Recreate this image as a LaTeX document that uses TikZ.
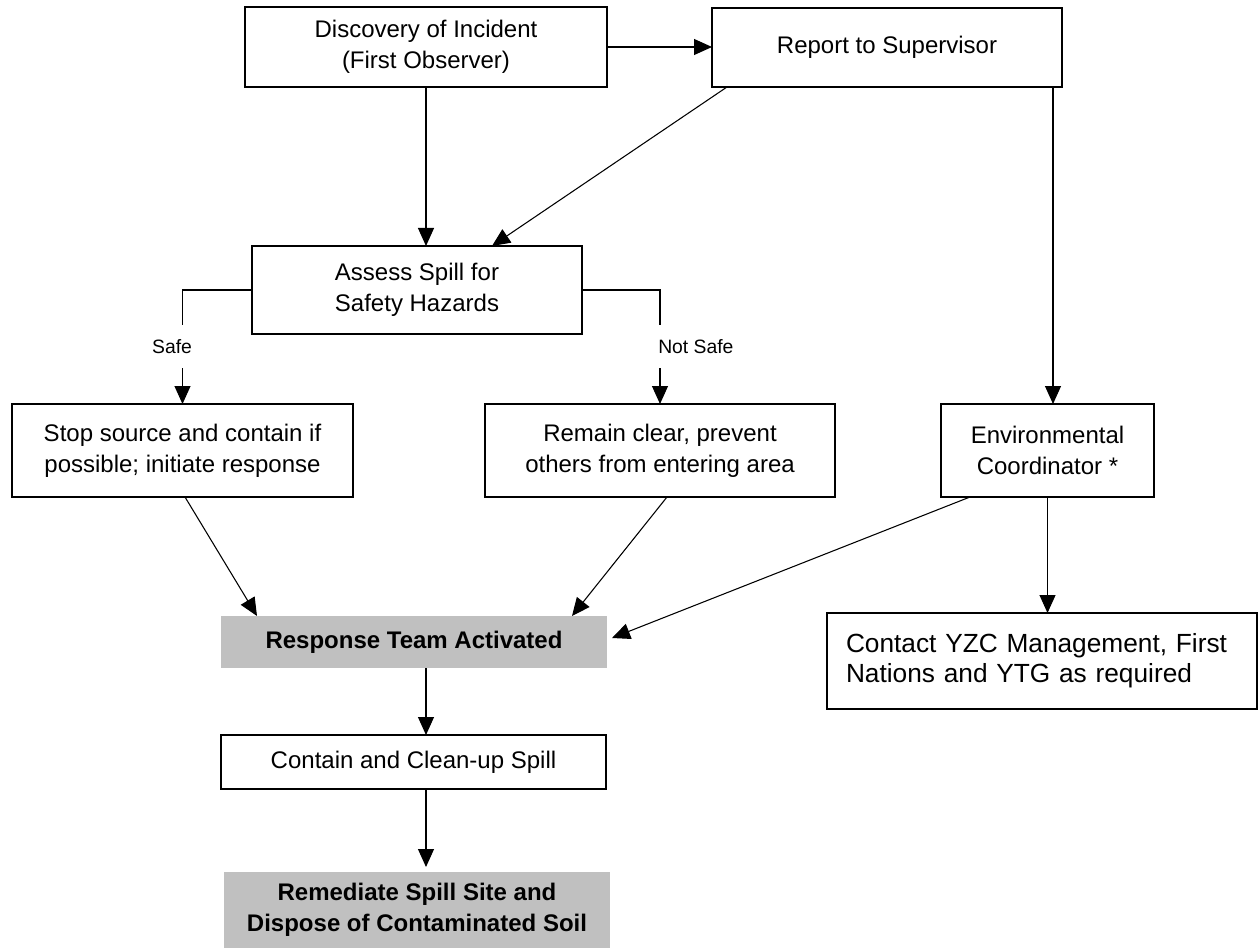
\documentclass[tikz,border=0pt]{standalone}
\usepackage{fontspec}
\setmainfont{Liberation Sans}
\usetikzlibrary{arrows.meta,calc}
\definecolor{boxgrey}{HTML}{C0C0C0}
\begin{document}
\begin{tikzpicture}[x=0.75pt,y=-0.75pt,
  box/.style={draw,line width=1pt,align=center,inner sep=0pt,outer sep=0pt,
    anchor=north west,font=\fontsize{18}{23}\selectfont},
  greybox/.style={fill=boxgrey,draw=none,align=center,inner sep=0pt,outer sep=0pt,
    anchor=north west,font=\fontsize{18}{23}\selectfont\bfseries},
  conn/.style={line width=0.8pt,-{Triangle[length=13.5pt,width=12pt]}},
  plain/.style={line width=0.8pt},
  lbl/.style={font=\fontsize{14.5}{17}\selectfont,inner sep=0pt}]
\useasboundingbox (0,0) rectangle (1259,948);

\node[box,minimum width=271.5pt,minimum height=60pt] (disc) at (245,7)
  {Discovery of Incident\\(First Observer)};
\node[box,minimum width=262.5pt,minimum height=59.25pt] (rep) at (712,8)
  {Report to Supervisor};
\node[box,minimum width=247.5pt,minimum height=66pt] (assess) at (252,246)
  {Assess Spill for\\Safety Hazards};
\node[box,minimum width=255.75pt,minimum height=69.75pt] (stop) at (12,404)
  {Stop source and contain if\\possible; initiate response};
\node[box,minimum width=262.5pt,minimum height=69.75pt] (remain) at (485,404)
  {Remain clear, prevent\\others from entering area};
\node[box,minimum width=159.75pt,minimum height=69.75pt] (env) at (941,404)
  {Environmental\\Coordinator *};
\node[greybox,minimum width=289.5pt,minimum height=39pt] (resp) at (221,616)
  {Response Team Activated};
\node[box,line width=1.5pt,minimum width=322.5pt,minimum height=72pt,align=left,
  text width=294pt,inner xsep=14.25pt,font=\fontsize{19.7}{22.5}\selectfont] (contact) at (827,613)
  {Contact YZC Management, First\\Nations and YTG as required\\[8pt]};
\node[box,minimum width=288.75pt,minimum height=40.5pt] (contain) at (221,735)
  {Contain and Clean-up Spill};
\node[greybox,minimum width=289.5pt,minimum height=57pt] (remed) at (224,872)
  {Remediate Spill Site and\\Dispose of Contaminated Soil};

% top row
\draw[conn] (disc.east) -- (disc.east -| rep.west);
\draw[conn] (disc.south) -- (disc.south |- assess.north);
\draw[conn] ($(rep.south west)+(15,0)$) -- ($(assess.north east)+(-90,0)$);
\coordinate (repR) at ($(rep.south east)+(-9,0)$);
\draw[conn] (repR) -- (repR |- env.north);

% safe branch
\coordinate (safeTop) at ($(stop.north)+(0,-79)$);
\draw[plain] (assess.west) -| (safeTop);
\node[lbl] (safe) at (172,347) {Safe};
\draw[conn] ($(stop.north)+(0,-36)$) -- (stop.north);

% not safe branch
\coordinate (nsTop) at ($(remain.north)+(0,-79)$);
\draw[plain] (assess.east) -| (nsTop);
\node[lbl,anchor=west] (notsafe) at (658,347) {Not Safe};
\draw[conn] ($(remain.north)+(0,-36)$) -- (remain.north);

% to response team
\draw[conn] ($(stop.south)+(2.5,0)$) -- ($(resp.north west)+(36,0)$);
\draw[conn] ($(remain.south)+(7,0)$) -- ($(resp.north east)+(-35,0)$);
\draw[conn] ($(env.south west)+(29,0)$) -- ($(resp.east)+(5,-4)$);
\draw[conn] (env.south) -- (env.south |- contact.north);

% lower chain
\coordinate (rc) at ($(resp.south)+(12,0)$);
\draw[conn] (rc) -- (rc |- contain.north);
\coordinate (cr) at ($(contain.south)+(12.5,0)$);
\draw[conn] (cr) -- ($(cr |- remed.north)+(0,-5)$);
\end{tikzpicture}
\end{document}
